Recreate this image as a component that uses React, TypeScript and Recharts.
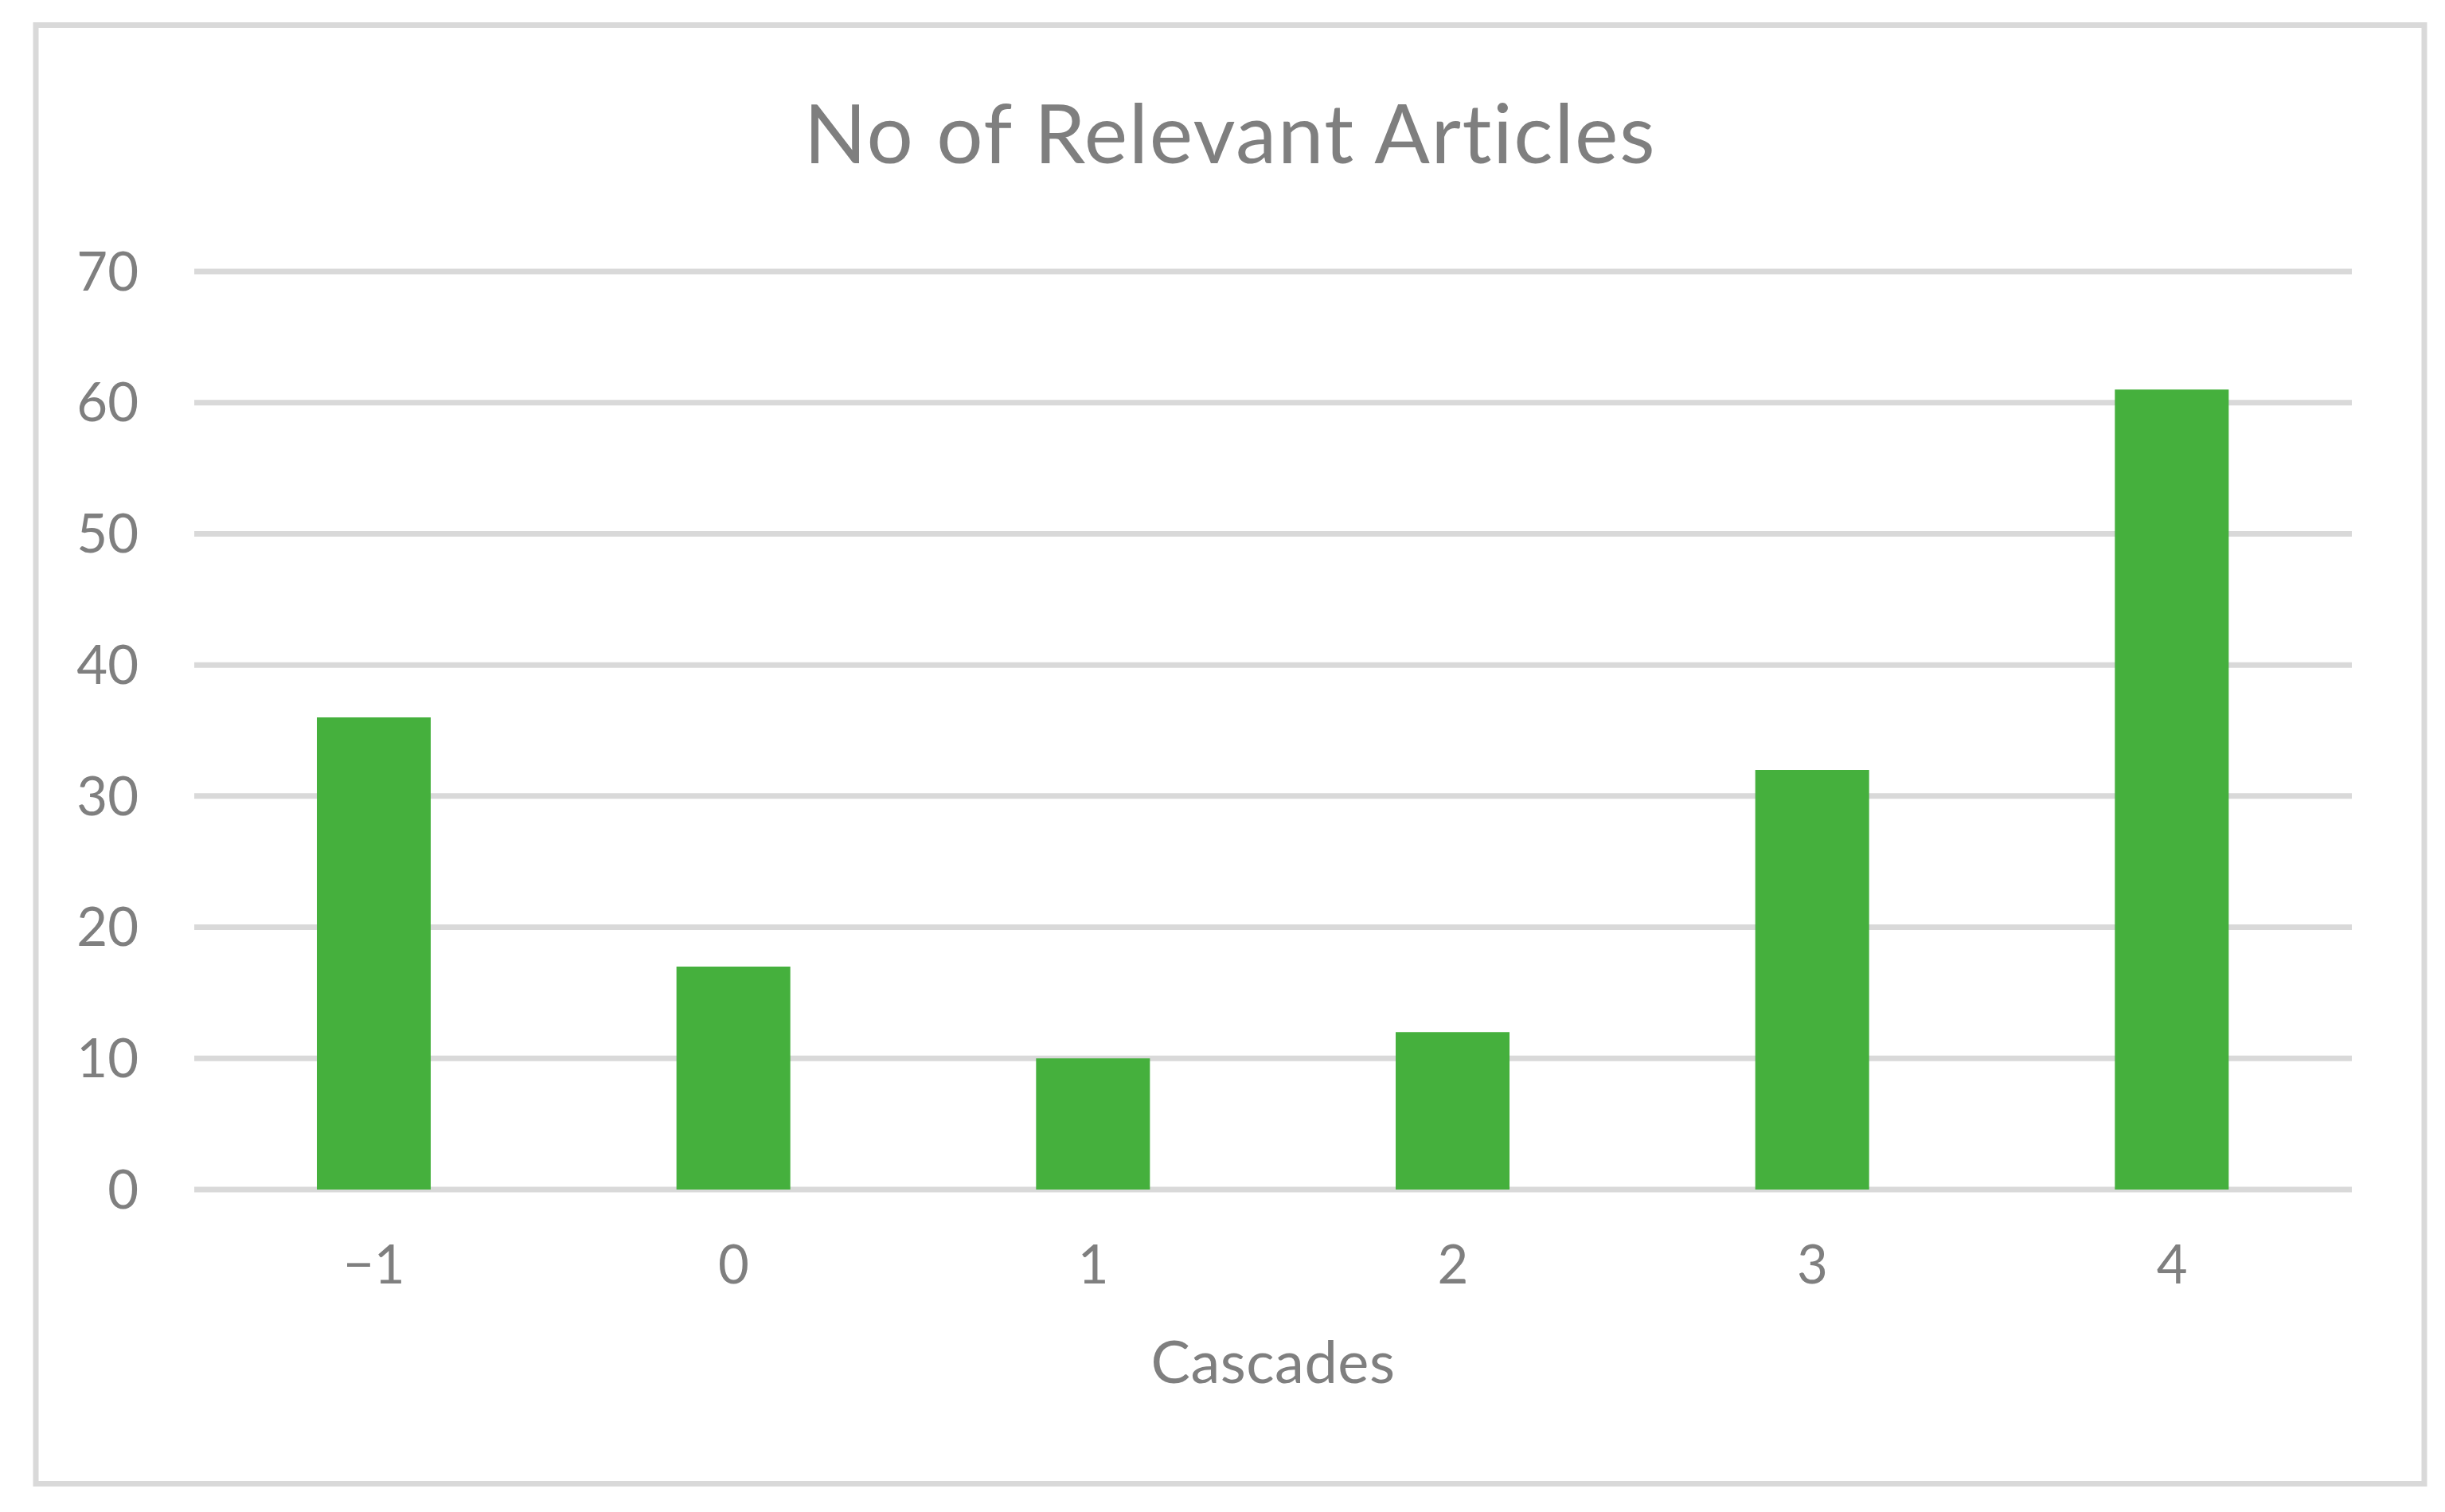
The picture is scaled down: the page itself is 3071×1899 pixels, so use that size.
import React from 'react';
import { BarChart, Bar, XAxis, YAxis, CartesianGrid } from 'recharts';

const categories = ['\u22121', '0', '1', '2', '3', '4'];
const articleCounts = [36, 17, 10, 12, 32, 61];
const yTicks = [0, 10, 20, 30, 40, 50, 60, 70];
const chartTitle = 'No of Relevant Articles';
const xAxisTitle = 'Cascades';

const data = categories.map((c, i) => ({ cascade: c, count: articleCounts[i] }));

const FONT = 'Lato, "Open Sans", sans-serif';
const TEXT = '#7f7f7f';

const AxisTitle = (props: any) => {
  const vb = props.viewBox || {};
  return (
    <text
      x={vb.x + vb.width / 2}
      y={vb.y + 243}
      textAnchor="middle"
      fill={TEXT}
      fontSize={74}
      fontFamily={FONT}
      letterSpacing={0.5}
    >
      {xAxisTitle}
    </text>
  );
};

export default function App() {
  return (
    <div style={{ position: 'absolute', left: 0, top: 0, width: 3071, height: 1899, background: '#fff' }}>
      <BarChart
        width={3071}
        height={1899}
        data={data}
        margin={{ top: 341, right: 117, bottom: 0, left: 0 }}
      >
        <CartesianGrid vertical={false} stroke="#d9d9d9" strokeWidth={7} />
        <XAxis
          dataKey="cascade"
          height={405}
          axisLine={false}
          tickLine={false}
          tickSize={0}
          tickMargin={70}
          tick={{ fill: TEXT, fontSize: 67, fontFamily: FONT }}
          label={<AxisTitle />}
        />
        <YAxis
          width={244}
          domain={[0, 70]}
          ticks={yTicks}
          axisLine={false}
          tickLine={false}
          tickSize={0}
          tickMargin={70}
          tick={{ fill: TEXT, fontSize: 67, fontFamily: FONT }}
        />
        <Bar dataKey="count" fill="#45b03d" barSize={143} isAnimationActive={false} />
      </BarChart>
      <svg
        width={3071}
        height={1899}
        style={{ position: 'absolute', left: 0, top: 0, pointerEvents: 'none' }}
      >
        <rect x={45} y={31.5} width={3000} height={1832} fill="none" stroke="#d9d9d9" strokeWidth={7} />
        <text x={1545} y={205} textAnchor="middle" fill={TEXT} fontSize={103} fontFamily={FONT} letterSpacing={1.6}>
          {chartTitle}
        </text>
      </svg>
    </div>
  );
}
